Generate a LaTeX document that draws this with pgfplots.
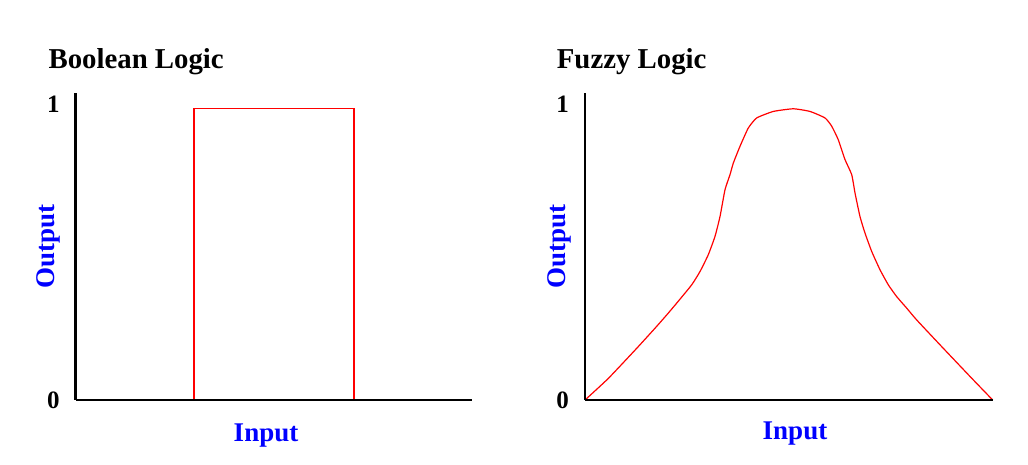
\documentclass[border=0pt]{standalone}
\usepackage{pgfplots}
\pgfplotsset{compat=1.18}
\usepackage{fontspec}
\setmainfont{Liberation Serif}
\definecolor{lred}{RGB}{255,0,0}
\definecolor{lblue}{RGB}{0,0,255}
\pgfplotsset{
  logicaxis/.style={
    scale only axis,
    height=307pt,
    ymin=0, ymax=1.0395,
    axis x line=bottom, axis y line=left,
    axis line style={-, line width=2.8pt, black},
    xtick=\empty,
    ytick={0,1},
    yticklabels={0,1},
    major tick length=0pt,
    tick style={draw=none},
    /pgf/number format/assume math mode=true,
    yticklabel style={anchor=center, font=\fontsize{25}{29}\selectfont\bfseries, xshift=-22.4pt},
    clip=false,
    axis on top,
    every axis title/.style={anchor=base west, inner sep=0pt, font=\fontsize{28.8}{32}\selectfont\bfseries},
    every axis x label/.style={anchor=base, inner sep=0pt, font=\fontsize{27}{30}\selectfont\bfseries, text=lblue},
    every axis y label/.style={anchor=center, inner sep=0pt, rotate=90, font=\fontsize{27}{30}\selectfont\bfseries, text=lblue},
  }
}
\begin{document}
\begin{tikzpicture}
\useasboundingbox (0,0) rectangle (1028pt,465pt);
\begin{axis}[logicaxis,
  at={(75.7pt,65pt)}, anchor=south west,
  width=396pt, xmin=0, xmax=396,
  title={Boolean Logic},
  title style={at={(axis description cs:-0.069,1.08)}},
  xlabel={Input},
  xlabel style={at={(axis description cs:0.4806,-0.136)}},
  ylabel={Output},
  ylabel style={at={(axis description cs:-0.07,0.5)}},
]
\addplot[lred, line width=1.2pt, sharp plot] coordinates {
  (118.3,0) (118.3,0.986) (278.3,0.986) (278.3,0)
};
\end{axis}
\begin{axis}[logicaxis,
  at={(585pt,65pt)}, anchor=south west,
  width=408pt, xmin=0, xmax=408,
  title={Fuzzy Logic},
  title style={at={(axis description cs:-0.0694,1.08)}},
  xlabel={Input},
  xlabel style={at={(axis description cs:0.5147,-0.130)}},
  ylabel={Output},
  ylabel style={at={(axis description cs:-0.0637,0.5)}},
]
\addplot[lred, line width=1.2pt, smooth, tension=0.3] coordinates {
  (0,0) (23.3,0.073) (51.7,0.175) (70,0.243) (81.7,0.288) (91.7,0.328)
  (106.7,0.390) (115,0.435) (123.3,0.492) (130,0.554) (135,0.621)
  (140,0.712) (145,0.763) (148.3,0.802) (155,0.859) (163.3,0.921)
  (171.7,0.955) (188.3,0.977) (208.3,0.986) (225,0.977) (240,0.955)
  (246.7,0.927) (253.3,0.881) (260,0.814) (266.7,0.763) (270,0.701)
  (275,0.621) (280,0.565) (286.7,0.503) (295,0.441) (303.3,0.390)
  (311.7,0.350) (321.7,0.311) (331.7,0.271) (358.3,0.175) (388.3,0.068)
  (407.7,0)
};
\end{axis}
\end{tikzpicture}
\end{document}
